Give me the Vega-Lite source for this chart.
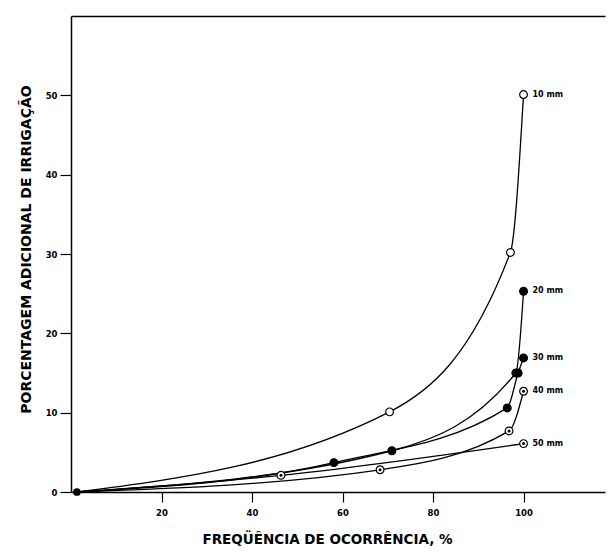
{
  "$schema": "https://vega.github.io/schema/vega-lite/v6.json",
  "width": 534,
  "height": 476,
  "autosize": {"type": "none"},
  "padding": {"left": 71, "top": 16, "right": 4, "bottom": 60},
  "background": "white",
  "config": {
    "view": {"stroke": null},
    "axis": {
      "grid": false,
      "domainColor": "black",
      "domainWidth": 1.5,
      "tickColor": "black",
      "tickWidth": 1.2,
      "tickSize": 10,
      "labelFont": "DejaVu Sans",
      "labelFontWeight": "bold",
      "labelFontSize": 8.5,
      "labelColor": "black",
      "titleFont": "DejaVu Sans",
      "titleFontWeight": "bold",
      "titleColor": "black"
    }
  },
  "data": {
    "values": [
      {"series": "10 mm", "x": 1.3, "y": 0},
      {"series": "10 mm", "x": 70.4, "y": 10.1},
      {"series": "10 mm", "x": 97.1, "y": 30.2},
      {"series": "10 mm", "x": 100, "y": 50.1},
      {"series": "20 mm", "x": 1.3, "y": 0},
      {"series": "20 mm", "x": 70.9, "y": 5.2},
      {"series": "20 mm", "x": 98.3, "y": 15.0},
      {"series": "20 mm", "x": 100, "y": 25.3},
      {"series": "30 mm", "x": 1.3, "y": 0},
      {"series": "30 mm", "x": 58.1, "y": 3.7},
      {"series": "30 mm", "x": 96.4, "y": 10.6},
      {"series": "30 mm", "x": 98.8, "y": 15.0},
      {"series": "30 mm", "x": 100, "y": 16.9},
      {"series": "40 mm", "x": 1.3, "y": 0},
      {"series": "40 mm", "x": 68.3, "y": 2.8},
      {"series": "40 mm", "x": 96.8, "y": 7.7},
      {"series": "40 mm", "x": 100, "y": 12.7},
      {"series": "50 mm", "x": 1.3, "y": 0},
      {"series": "50 mm", "x": 46.4, "y": 2.1},
      {"series": "50 mm", "x": 100, "y": 6.1}
    ]
  },
  "resolve": {"axis": {"x": "independent", "y": "independent"}},
  "layer": [
    {
      "mark": {"type": "line", "interpolate": "monotone", "color": "black", "strokeWidth": 1.3},
      "encoding": {
        "x": {
          "field": "x", "type": "quantitative",
          "scale": {"domain": [0, 118], "nice": false, "zero": false},
          "axis": {
            "orient": "bottom",
            "values": [20, 40, 60, 80, 100],
            "labelPadding": 6,
            "title": "FREQÜÊNCIA DE OCORRÊNCIA, %",
            "titleFontSize": 13.5,
            "titleX": 256,
            "titleY": 40,
            "titleBaseline": "top"
          }
        },
        "y": {
          "field": "y", "type": "quantitative",
          "scale": {"domain": [0, 60], "nice": false},
          "axis": {
            "values": [0, 10, 20, 30, 40, 50],
            "tickSize": 11,
            "labelPadding": 3,
            "title": "PORCENTAGEM ADICIONAL DE IRRIGAÇÃO",
            "titleFontSize": 14,
            "titleX": -38,
            "titleY": 233
          }
        },
        "detail": {"field": "series"}
      }
    },
    {
      "transform": [{"filter": "datum.x > 5"}],
      "mark": {"type": "point", "filled": true, "stroke": "black", "strokeWidth": 1.2, "size": 60, "opacity": 1},
      "encoding": {
        "x": {"field": "x", "type": "quantitative", "axis": null},
        "y": {"field": "y", "type": "quantitative", "axis": null},
        "fill": {
          "field": "series", "type": "nominal",
          "scale": {"domain": ["10 mm", "20 mm", "30 mm", "40 mm", "50 mm"], "range": ["white", "black", "black", "white", "white"]},
          "legend": null
        }
      }
    },
    {
      "transform": [{"filter": "datum.x > 5 && (datum.series == '40 mm' || datum.series == '50 mm')"}],
      "mark": {"type": "point", "filled": true, "color": "black", "size": 9, "opacity": 1},
      "encoding": {
        "x": {"field": "x", "type": "quantitative", "axis": null},
        "y": {"field": "y", "type": "quantitative", "axis": null}
      }
    },
    {
      "transform": [{"filter": "datum.x < 5 && datum.series == '10 mm'"}],
      "mark": {"type": "point", "filled": true, "color": "black", "size": 60, "opacity": 1},
      "encoding": {
        "x": {"field": "x", "type": "quantitative", "axis": null},
        "y": {"field": "y", "type": "quantitative", "axis": null}
      }
    },
    {
      "transform": [{"filter": "datum.x >= 99.9"}],
      "mark": {"type": "text", "align": "left", "baseline": "middle", "dx": 9, "fontSize": 8, "font": "DejaVu Sans", "fontWeight": "bold", "color": "black"},
      "encoding": {
        "x": {"field": "x", "type": "quantitative", "axis": null},
        "y": {"field": "y", "type": "quantitative", "axis": null},
        "text": {"field": "series"}
      }
    },
    {
      "transform": [{"filter": "datum.x >= 99.9 && datum.series == '10 mm'"}],
      "mark": {"type": "point", "opacity": 0},
      "encoding": {
        "x": {
          "field": "x", "type": "quantitative",
          "axis": {"orient": "top", "labels": false, "ticks": false, "title": null, "domain": true}
        },
        "y": {"field": "y", "type": "quantitative", "axis": null}
      }
    }
  ]
}
